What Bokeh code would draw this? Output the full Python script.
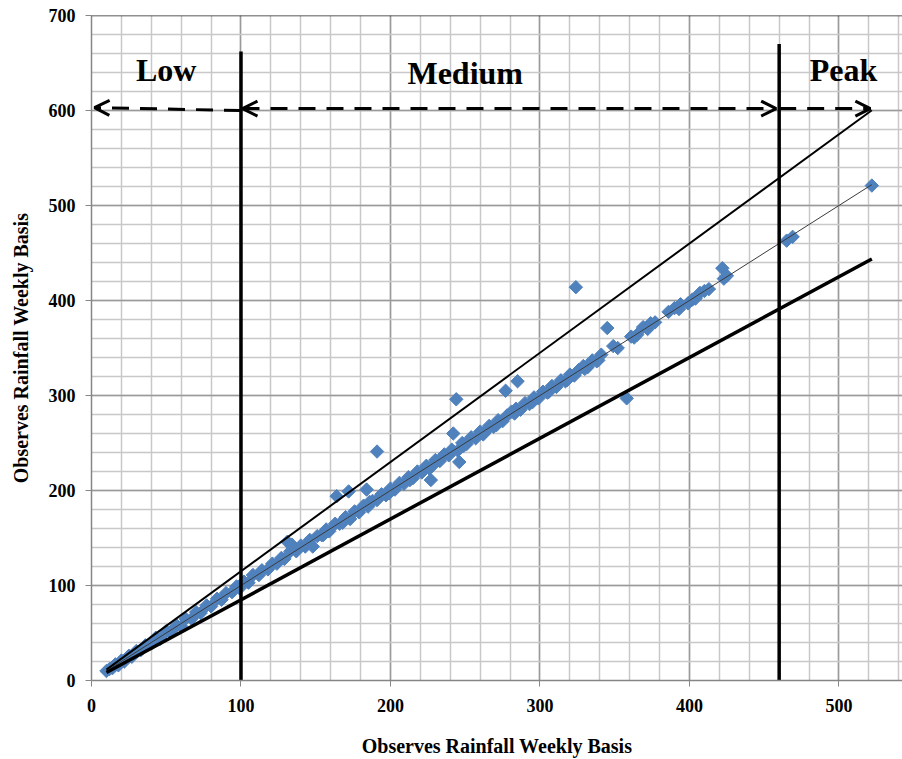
from math import pi

from bokeh.plotting import figure
from bokeh.models import Range1d, SingleIntervalTicker, Span, Arrow, OpenHead
from bokeh.embed import file_html
from bokeh.resources import INLINE
from bokeh.core.properties import value

# Weekly rainfall: observed (x) against observed/estimated (y)
obs_x = [10, 12, 14, 16, 18, 20, 22, 25, 27, 30, 33, 36, 40, 43, 46, 50, 53, 57, 60, 63,
         67, 70, 73, 77, 80, 84, 87, 90, 94, 97, 99,
         102, 105, 108, 112, 114, 118, 121, 124, 127, 129, 131, 133, 134, 137, 140, 143,
         146, 148, 151, 154, 157, 159, 163, 164, 166, 170, 172, 173, 176, 179, 182, 184,
         185, 188, 191, 191, 194, 197, 200, 203, 206, 209, 212, 215, 218, 221, 224, 226,
         227, 230, 233, 236, 239, 241, 242, 244, 245, 246, 248, 251, 254, 257, 260, 263,
         266, 269, 272, 275, 277, 278, 281, 284, 285, 287, 290, 293, 296, 299, 302, 305,
         308, 311, 314, 317, 320, 323, 324, 326, 329, 332, 335, 338, 341, 345, 349, 352,
         358, 361, 365, 369, 374, 377, 386, 390, 394, 399, 402, 407, 410, 413, 422, 423,
         425,
         465, 469, 522,
         155, 168, 186, 199, 213, 228, 249, 262, 271, 283, 295, 306, 318, 330, 339,
         363, 372, 393, 404]
obs_y = [10, 12, 13, 17, 16, 21, 20, 26, 25, 31, 32, 37, 39, 45, 44, 52, 51, 58, 57, 65,
         65, 72, 71, 79, 78, 86, 85, 92, 93, 99, 97,
         104, 103, 111, 111, 116, 117, 123, 123, 129, 128, 146, 136, 143, 136, 142, 141,
         148, 141, 152, 153, 159, 157, 165, 194, 165, 172, 199, 170, 178, 177, 184, 201,
         183, 189, 241, 190, 196, 195, 202, 201, 208, 207, 214, 213, 220, 219, 226, 223,
         211, 232, 231, 238, 237, 243, 260, 296, 242, 230, 250, 249, 256, 255, 262, 261,
         268, 267, 274, 273, 305, 279, 283, 286, 315, 285, 292, 291, 298, 297, 304, 303,
         310, 309, 316, 315, 322, 321, 414, 327, 331, 330, 337, 336, 343, 371, 352, 350,
         297, 362, 364, 372, 376, 377, 388, 392, 396, 397, 401, 408, 410, 412, 434, 423,
         426,
         463, 467, 521,
         153, 166, 188, 197, 211, 226, 247, 259, 269, 281, 293, 304, 316, 328, 337,
         361, 370, 391, 402]

# Reference bands: +15 %, 1:1 and -15 %
band_factors = [1.15, 1.0, 0.85]
band_colors = ["black", "#3a3a3a", "black"]
band_widths = [2.0, 1.0, 3.5]
band_x = [10, 522]

# Rainfall zones
zone_bounds = [100, 460]
zone_names = ["Low", "Medium", "Peak"]
zone_label_x = [50, 250, 503]
zone_label_y = [643, 640, 643]
zone_line_tops = [662, 670]
arrow_level = 602
arrow_left, arrow_right = 2, 521

SERIF = "Liberation Serif"

p = figure(width=902, height=759,
           x_range=Range1d(0, 542.5), y_range=Range1d(0, 700),
           output_backend="svg", toolbar_location=None,
           min_border_left=91, min_border_right=0,
           min_border_top=15, min_border_bottom=78)
p.outline_line_color = None
p.background_fill_color = "white"
p.border_fill_color = "white"

for ax in (p.xaxis, p.yaxis):
    ax.ticker = SingleIntervalTicker(interval=100, num_minor_ticks=5)
    ax.axis_line_color = "#868686"
    ax.axis_line_width = 1.5
    ax.major_tick_line_color = "#868686"
    ax.major_tick_out = 6
    ax.major_tick_in = 0
    ax.minor_tick_out = 0
    ax.minor_tick_in = 0
    ax.major_label_text_font = SERIF
    ax.major_label_text_font_style = "bold"
    ax.major_label_text_font_size = "18px"
    ax.major_label_text_color = "black"
    ax.axis_label = "Observes Rainfall Weekly Basis"
    ax.axis_label_text_font = SERIF
    ax.axis_label_text_font_style = "bold"
    ax.axis_label_text_font_size = "20px"
    ax.axis_label_text_color = "black"

p.xaxis.major_label_standoff = 12
p.xaxis.axis_label_standoff = 20
p.yaxis.major_label_standoff = 10
p.yaxis.axis_label_standoff = 14

for g in (p.xgrid, p.ygrid):
    g.grid_line_color = "#9a9a9a"
    g.grid_line_width = 1.5
    g.minor_grid_line_color = "#c8c8c8"
    g.minor_grid_line_width = 1.5

# top frame edge
p.add_layout(Span(location=700, dimension="width", line_color="#222222", line_width=1.5))

# observations
p.scatter(obs_x, obs_y, marker="square", angle=pi / 4, size=9.5,
          fill_color="#4F81BD", line_color="#4F81BD")

# band lines
for f, c, w in zip(band_factors, band_colors, band_widths):
    p.line(band_x, [f * x for x in band_x], line_color=c, line_width=w)

# zone boundaries
p.segment(x0=zone_bounds, y0=[0, 0], x1=zone_bounds, y1=zone_line_tops,
          line_color="black", line_width=3.5)

# zone extents
dash = dict(line_color="black", line_width=3, line_dash="17 11")


def head():
    return OpenHead(size=15, line_color="black", line_width=3)


p.add_layout(Arrow(x_start=zone_bounds[0], y_start=arrow_level - 2,
                   x_end=arrow_left, y_end=arrow_level + 1,
                   start=None, end=head(), **dash))
p.add_layout(Arrow(x_start=zone_bounds[0] + 1, y_start=arrow_level,
                   x_end=zone_bounds[1] - 2, y_end=arrow_level,
                   start=head(), end=head(), **dash))
p.add_layout(Arrow(x_start=zone_bounds[1], y_start=arrow_level,
                   x_end=arrow_right, y_end=arrow_level,
                   start=None, end=head(), **dash))

p.text(x=zone_label_x, y=zone_label_y, text=zone_names,
       text_font=value(SERIF), text_font_style="bold", text_font_size="32px",
       text_align="center", text_baseline="alphabetic", text_color="black")

open("out.html", "w").write(file_html(p, INLINE))
